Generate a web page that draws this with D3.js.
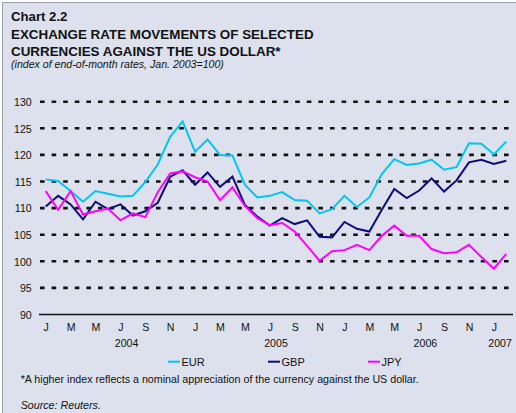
<!DOCTYPE html>
<html><head><meta charset="utf-8">
<script src="https://cdn.jsdelivr.net/npm/d3@7"></script>
<style>
html,body{margin:0;padding:0;background:#fff;}
svg{display:block;font-family:"Liberation Sans",Arial,sans-serif;}
</style></head>
<body><svg id="chart" width="516" height="413"></svg>
<script>
// Months Jan 2004 .. Feb 2007
const months = ["2004-01","2004-02","2004-03","2004-04","2004-05","2004-06","2004-07","2004-08","2004-09","2004-10","2004-11","2004-12",
"2005-01","2005-02","2005-03","2005-04","2005-05","2005-06","2005-07","2005-08","2005-09","2005-10","2005-11","2005-12",
"2006-01","2006-02","2006-03","2006-04","2006-05","2006-06","2006-07","2006-08","2006-09","2006-10","2006-11","2006-12",
"2007-01","2007-02"];
const eur = [115.4,115.1,113.2,111.2,113.2,112.7,112.2,112.3,114.9,118.2,123.4,126.3,
120.6,122.9,120.0,119.9,114.4,112.0,112.3,113.0,111.5,111.4,109.0,109.8,
112.3,110.2,112.0,116.4,119.2,118.1,118.4,119.1,117.2,117.7,122.2,122.1,
120.1,122.5];
const gbp = [110.3,112.3,110.7,107.9,111.2,109.8,110.7,108.6,109.4,111.0,115.9,117.1,
114.4,116.7,114.0,115.9,110.6,108.4,106.7,108.1,107.0,107.7,104.6,104.5,
107.4,106.1,105.6,109.7,113.6,111.9,113.3,115.6,113.1,115.2,118.6,119.1,
118.3,118.9];
const jpy = [113.2,109.7,113.2,108.8,109.4,109.9,107.7,109.0,108.3,113.0,116.5,116.9,
115.8,115.0,111.5,113.9,110.4,108.1,106.8,107.2,105.6,102.9,100.1,101.9,
102.1,103.1,102.1,104.8,106.7,104.8,104.8,102.3,101.5,101.7,103.1,100.8,
98.6,101.4];
const seriesNames = ["EUR","GBP","JPY"];
const seriesColors = ["#00c6f5","#0b0b7a","#ff00ff"];
const yTicks = [90,95,100,105,110,115,120,125,130];
const monthTickLabels = ["J","M","M","J","S","N","J","M","M","J","S","N","J","M","M","J","S","N","J"];
const yearLabels = [{idx:6,label:"2004"},{idx:18,label:"2005"},{idx:30,label:"2006"},{idx:36,label:"2007"}];

const svg = d3.select("#chart");
const ink = "#111";
// panel background
svg.append("rect").attr("x",2.5).attr("y",2.5).attr("width",520).attr("height",420)
  .attr("fill","#dce1ed").attr("stroke","#9aa0aa").attr("stroke-width",1);

// titles
svg.append("text").attr("x",11).attr("y",21).attr("font-size",13.2).attr("font-weight","bold").attr("fill",ink).text("Chart 2.2");
svg.append("text").attr("x",11).attr("y",38.5).attr("font-size",13.4).attr("font-weight","bold").attr("fill",ink).text("EXCHANGE RATE MOVEMENTS OF SELECTED");
svg.append("text").attr("x",11).attr("y",56).attr("font-size",13.4).attr("font-weight","bold").attr("fill",ink).text("CURRENCIES AGAINST THE US DOLLAR*");
svg.append("text").attr("x",11).attr("y",67.5).attr("font-size",10.6).attr("font-style","italic").attr("fill",ink).text("(index of end-of-month rates, Jan. 2003=100)");

const x = d3.scaleLinear().domain([0, months.length-1]).range([45.7, 506.3]);
const y = d3.scaleLinear().domain([90,130]).range([314.5, 101.7]);

// y tick labels
const yAxis = d3.axisLeft(y).tickValues(yTicks).tickSize(0).tickPadding(0);
const gy = svg.append("g").attr("transform","translate(31.7,0)").call(yAxis);
gy.select(".domain").remove();
gy.selectAll("text").attr("font-size",10.6).attr("fill",ink).attr("font-family","Liberation Sans, Arial, sans-serif").attr("dy","0.35em");

// grid lines
const grid = svg.append("g");
yTicks.forEach(t=>{
  if(t===90){
    grid.append("line").attr("x1",39).attr("x2",513).attr("y1",y(t)).attr("y2",y(t))
      .attr("stroke",ink).attr("stroke-width",1.6);
  } else {
    grid.append("line").attr("x1",40).attr("x2",509).attr("y1",y(t)).attr("y2",y(t))
      .attr("stroke",ink).attr("stroke-width",2.6).attr("stroke-dasharray","4.6,7");
  }
});

// x axis labels
const tickIdx = d3.range(0, 37, 2);
const xAxis = d3.axisBottom(x).tickValues(tickIdx).tickSize(0).tickPadding(0)
  .tickFormat((d,i)=>monthTickLabels[i]);
const gx = svg.append("g").attr("transform","translate(0,325)").call(xAxis);
gx.select(".domain").remove();
gx.selectAll("text").attr("font-size",10.6).attr("fill",ink).attr("font-family","Liberation Sans, Arial, sans-serif").attr("dy","0.6em");

svg.append("g").selectAll("text").data(yearLabels).join("text")
  .attr("x",d=>x(d.idx+0.5)).attr("y",347.3).attr("text-anchor","middle")
  .attr("font-size",10.6).attr("fill",ink).text(d=>d.label);

// lines
const data = [eur,gbp,jpy];
const line = d3.line().x((d,i)=>x(i)).y(d=>y(d));
svg.append("g").selectAll("path").data(data).join("path")
  .attr("d",line).attr("fill","none")
  .attr("stroke",(d,i)=>seriesColors[i]).attr("stroke-width",2).attr("stroke-linejoin","miter");

// legend
const legX = [168,268,368];
const leg = svg.append("g");
seriesNames.forEach((n,i)=>{
  leg.append("line").attr("x1",legX[i]).attr("x2",legX[i]+12).attr("y1",361.7).attr("y2",361.7)
    .attr("stroke",seriesColors[i]).attr("stroke-width",2);
  leg.append("text").attr("x",legX[i]+13.5).attr("y",365.7).attr("font-size",11).attr("fill",ink).text(n);
});

// footnotes
svg.append("text").attr("x",20.7).attr("y",383.3).attr("font-size",10.7).attr("fill",ink)
  .text("*A higher index reflects a nominal appreciation of the currency against the US dollar.");
svg.append("text").attr("x",20.7).attr("y",409).attr("font-size",10.7).attr("font-style","italic").attr("fill",ink)
  .text("Source: Reuters.");
</script></body></html>
